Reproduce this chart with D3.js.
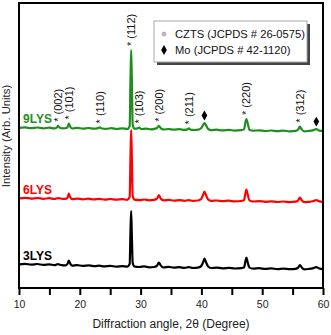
<!DOCTYPE html>
<html>
<head>
<meta charset="utf-8">
<script src="https://cdn.jsdelivr.net/npm/d3@7"></script>
<style>
  body { margin: 0; background: #fff; }
  text { font-family: "Liberation Sans", Arial, sans-serif; }
</style>
</head>
<body>
<svg id="chart" width="331" height="335"></svg>
<script>
// XRD patterns, [2theta, intensity (arb.)]
const sample3LYS = [[10,23.6],[11,24.2],[12,23.3],[13,24.0],[14,23.1],[15,23.6],[15.8,22.8],[16.4,23.8],[17,22.9],[17.7,22.6],[18.0,24.5],[18.2,27.5],[18.45,24.2],[18.8,22.4],[19.5,22.9],[20.5,22.1],[21.5,22.6],[22.5,21.8],[23.2,22.3],[24,21.6],[25,22.1],[26,21.4],[27,21.9],[27.8,21.3],[28.2,24],[28.35,60],[28.45,77],[28.55,55],[28.7,25],[29.0,21.5],[29.8,21.0],[30.6,21.6],[31.4,20.7],[32.2,21.0],[32.7,22.4],[33.0,25.5],[33.3,22.6],[33.8,20.5],[34.6,21.1],[35.5,20.3],[36.4,20.8],[37.2,20.1],[37.9,20.9],[38.6,20.0],[39.4,20.4],[39.9,21.5],[40.3,26],[40.5,29.5],[40.75,26],[41.1,21.5],[41.6,20.0],[42.5,20.4],[43.5,19.7],[44.5,20.2],[45.5,19.5],[46.5,19.9],[47.0,20.5],[47.25,27],[47.4,30.5],[47.6,26],[47.9,20.4],[48.5,19.4],[49.5,19.8],[50.5,19.1],[51.5,19.6],[52.5,18.9],[53.5,19.4],[54.5,18.8],[55.5,19.2],[55.9,20.4],[56.2,23],[56.5,20.6],[56.9,18.7],[57.6,19.0],[58.3,19.6],[58.9,20.8],[59.4,19.5],[60,18.8]];

const sample6LYS = [[10,22.6],[11,23.2],[12,22.4],[13,23.0],[14,22.2],[15,22.8],[15.8,22.0],[16.5,22.9],[17.2,22.1],[17.8,22.3],[18.05,24.5],[18.2,27.5],[18.4,24.0],[18.8,21.8],[19.6,22.4],[20.5,21.7],[21.4,22.3],[22.3,21.6],[23.2,22.2],[24.1,21.4],[25,22.0],[26,21.3],[27,21.8],[27.8,21.2],[28.2,24],[28.35,68],[28.45,91],[28.55,66],[28.7,25],[29,21.4],[29.8,20.9],[30.6,21.5],[31.4,20.7],[32.2,21.1],[32.7,22.3],[33.0,26],[33.3,22.5],[33.8,20.6],[34.6,21.1],[35.5,20.3],[36.4,20.9],[37.2,20.2],[37.9,20.8],[38.6,20.1],[39.4,20.5],[39.9,21.6],[40.3,26.5],[40.5,29.3],[40.75,26],[41.1,21.6],[41.6,20.1],[42.5,20.5],[43.5,19.8],[44.5,20.3],[45.5,19.6],[46.5,20.0],[47.0,20.7],[47.25,28],[47.4,31.5],[47.6,27],[47.9,20.6],[48.5,19.5],[49.5,19.9],[50.5,19.2],[51.5,19.7],[52.5,19.0],[53.5,19.5],[54.5,18.9],[55.5,19.3],[55.9,20.5],[56.2,23.5],[56.5,20.7],[56.9,18.8],[57.6,19.1],[58.3,19.7],[58.9,21],[59.4,19.6],[60,19.2]];

const sample9LYS = [[10,22.1],[11,22.6],[12,21.8],[13,22.5],[14,21.7],[15,22.3],[15.8,21.6],[16.2,22.4],[16.45,24.2],[16.7,22.3],[17.3,21.6],[17.8,22.0],[18.05,23.8],[18.2,26.5],[18.4,23.5],[18.8,21.5],[19.6,22.1],[20.5,21.4],[21.4,22.0],[22.3,21.3],[23.0,21.9],[23.3,22.6],[23.6,21.5],[24.4,21.2],[25.2,21.8],[26.1,21.0],[27,21.6],[27.8,21.0],[28.2,24],[28.35,75],[28.45,100],[28.55,73],[28.7,25],[29,21.3],[29.5,21.6],[29.75,22.4],[30.1,21.0],[30.9,21.4],[31.7,20.6],[32.3,21.1],[32.7,22.0],[33.0,24.2],[33.3,21.9],[33.8,20.5],[34.6,21.0],[35.5,20.3],[36.4,20.8],[37.2,20.1],[37.7,20.6],[37.95,21.6],[38.2,20.3],[38.9,20.0],[39.5,20.4],[39.9,21.5],[40.3,25.2],[40.5,27],[40.75,24.8],[41.1,21.2],[41.6,19.9],[42.5,20.3],[43.5,19.6],[44.5,20.1],[45.5,19.4],[46.5,19.8],[47.0,20.6],[47.25,28],[47.4,31],[47.6,27],[47.9,20.3],[48.5,19.3],[49.5,19.7],[50.5,19.0],[51.5,19.5],[52.5,18.8],[53.5,19.3],[54.5,18.7],[55.5,19.1],[55.9,20.5],[56.2,23.3],[56.5,20.6],[56.9,18.7],[57.6,19.0],[58.3,19.6],[58.9,20.9],[59.4,19.4],[60,19.1]];

const sampleNames = ["3LYS", "6LYS", "9LYS"];
const sampleData = [sample3LYS, sample6LYS, sample9LYS];

// CZTS reflections (JCPDS 26-0575) and Mo (JCPDS 42-1120)
const cztsPlanes = ["(002)", "(101)", "(110)", "(112)", "(103)", "(200)", "(211)", "(220)", "(312)"];
const cztsAngles = [16.5, 18.2, 23.3, 28.45, 29.8, 33.0, 38.0, 47.4, 56.3];
const moAngles = [40.5, 58.9];

const xTicks = [10, 15, 20, 25, 30, 35, 40, 45, 50, 55, 60];
const legendLabels = ["CZTS (JCPDS # 26-0575)", "Mo (JCPDS # 42-1120)"];

// layout
const plotL = 19, plotR = 323, plotT = 3, plotB = 288;
const stackOffset = [0, 67, 138];
const colors = ["#000000", "#ff0000", "#1e8f1e"];

const svg = d3.select("#chart");

const x = d3.scaleLinear().domain([10, 60]).range([plotL, plotR]);
const y = d3.scaleLinear().domain([0, plotB - plotT]).range([plotB, plotT]);

// traces, green drawn last so it sits on top
sampleData.forEach((data, i) => {
  const line = d3.line()
    .x(d => x(d[0]))
    .y(d => y(d[1] + stackOffset[i]))
    .curve(d3.curveMonotoneX);
  svg.append("path")
    .datum(data)
    .attr("d", line)
    .attr("fill", "none")
    .attr("stroke", colors[i])
    .attr("stroke-width", 2.2)
    .attr("stroke-linejoin", "round");

  svg.append("text")
    .attr("x", plotL + 4)
    .attr("y", y(data[0][1] + stackOffset[i]) - 4.5)
    .attr("fill", colors[i])
    .attr("font-size", 12)
    .attr("font-weight", "bold")
    .style("font-family", "'Liberation Sans', Arial, sans-serif")
    .text(sampleNames[i]);
});

// peak markers above the top (9LYS) pattern
const topData = sampleData[2], topOff = stackOffset[2];
function peakTop(a) {
  const near = topData.filter(d => Math.abs(d[0] - a) <= 0.45);
  return y(d3.max(near, d => d[1]) + topOff);
}

cztsPlanes.forEach((p, i) => {
  const px = x(cztsAngles[i]), py = peakTop(cztsAngles[i]) - 4;
  svg.append("text")
    .attr("transform", "translate(" + px + "," + py + ") rotate(-90)")
    .attr("dy", "0.35em")
    .attr("font-size", 11)
    .attr("fill", "#111")
    .text("* " + p);
});

const diamond = d3.symbol().type(d3.symbolDiamond).size(28);
moAngles.forEach(a => {
  svg.append("path")
    .attr("d", diamond)
    .attr("transform", "translate(" + x(a) + "," + (peakTop(a) - 7.5) + ")")
    .attr("fill", "#000");
});

// frame
svg.append("rect")
  .attr("x", plotL).attr("y", plotT)
  .attr("width", plotR - plotL).attr("height", plotB - plotT)
  .attr("fill", "none")
  .attr("stroke", "#000")
  .attr("stroke-width", 2);

// x axis ticks + labels
const xAxis = d3.axisBottom(x)
  .tickValues(xTicks)
  .tickSize(7)
  .tickPadding(6)
  .tickFormat(d => d % 10 === 0 ? d : "");
const gx = svg.append("g")
  .attr("transform", "translate(0," + plotB + ")")
  .call(xAxis);
gx.select(".domain").remove();
gx.selectAll("line").attr("stroke", "#000").attr("stroke-width", 2);
gx.selectAll("text")
  .attr("font-size", 10.5)
  .attr("fill", "#222")
  .style("font-family", "'Liberation Sans', Arial, sans-serif");

svg.append("text")
  .attr("x", (plotL + plotR) / 2)
  .attr("y", 328)
  .attr("text-anchor", "middle")
  .attr("font-size", 12)
  .attr("fill", "#222")
  .text("Diffraction angle, 2\u03b8 (Degree)");

svg.append("text")
  .attr("transform", "translate(10,136) rotate(-90)")
  .attr("text-anchor", "middle")
  .attr("font-size", 11.3)
  .attr("fill", "#222")
  .text("Intensity (Arb. Units)");

// legend with drop shadow
const lg = svg.append("g").attr("transform", "translate(154,21)");
lg.append("rect")
  .attr("x", 3).attr("y", 3)
  .attr("width", 153).attr("height", 41)
  .attr("fill", "#444");
lg.append("rect")
  .attr("x", 0).attr("y", 0)
  .attr("width", 153).attr("height", 41)
  .attr("fill", "#fff")
  .attr("stroke", "#aaa")
  .attr("stroke-width", 1);

legendLabels.forEach((t, i) => {
  const ly = 13 + i * 16;
  if (i === 0) {
    lg.append("circle").attr("cx", 10).attr("cy", ly).attr("r", 2)
      .attr("fill", "#bbb").attr("stroke", "#999").attr("stroke-width", 0.6);
  } else {
    lg.append("path").attr("d", diamond).attr("transform", "translate(10," + ly + ")").attr("fill", "#000");
  }
  lg.append("text")
    .attr("x", 21).attr("y", ly)
    .attr("dy", "0.36em")
    .attr("font-size", 11.2)
    .attr("fill", "#111")
    .text(t);
});
</script>
</body>
</html>
